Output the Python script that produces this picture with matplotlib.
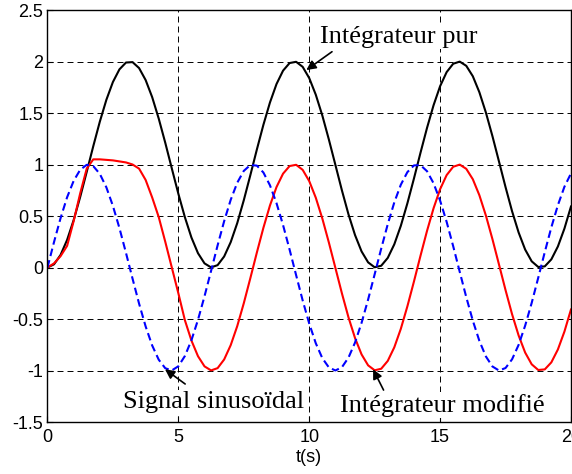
#
#  Signal sinusoidal, integrateur pur et integrateur modifie
#
################################################################

import numpy as np
import matplotlib
matplotlib.use("Agg")
import matplotlib.pylab as plt

plt.rcParams['axes.unicode_minus'] = False
plt.rcParams['lines.scale_dashes'] = False

#  Sample times (s), one value every 0.25 s
t = np.linspace(0, 20, 81)

#  Values
sig = [0.000, 0.247, 0.479, 0.682, 0.841, 0.949, 0.997, 0.984, 0.909, 0.778,
       0.598, 0.382, 0.141, -0.108, -0.351, -0.572, -0.757, -0.895, -0.978, -0.999,
       -0.959, -0.859, -0.706, -0.508, -0.279, -0.033,
       0.215, 0.450, 0.657, 0.823, 0.938, 0.995, 0.989, 0.922, 0.798, 0.625,
       0.412, 0.174, -0.075, -0.320,
       -0.544, -0.735, -0.880, -0.970, -1.000, -0.968, -0.875, -0.729, -0.537, -0.311,
       -0.066,
       0.183, 0.420, 0.632, 0.804, 0.926, 0.991, 0.994, 0.935, 0.818, 0.650,
       0.443, 0.207, -0.042, -0.288, -0.516, -0.712, -0.864, -0.961, -1.000, -0.976,
       -0.891, -0.751, -0.564, -0.343, -0.099, 0.150, 0.390, 0.605, 0.784, 0.913]

pur = [0.000, 0.031, 0.122, 0.268, 0.460, 0.685, 0.929, 1.178, 1.416, 1.628,
       1.801, 1.924, 1.990, 1.994, 1.936, 1.820, 1.654, 1.446, 1.211, 0.962,
       0.716, 0.488, 0.291, 0.139, 0.040, 0.001,
       0.023, 0.107, 0.246, 0.431, 0.653, 0.896, 1.146, 1.386, 1.602, 1.781,
       1.911, 1.985, 1.997, 1.948,
       1.839, 1.678, 1.476, 1.243, 0.996, 0.748, 0.516, 0.315, 0.156, 0.050,
       0.002,
       0.017, 0.093, 0.225, 0.405, 0.623, 0.863, 1.113, 1.355, 1.575, 1.760,
       1.897, 1.978, 1.999, 1.958, 1.857, 1.702, 1.504, 1.275, 1.029, 0.781,
       0.546, 0.340, 0.174, 0.060, 0.005, 0.011, 0.079, 0.204, 0.378, 0.592]

modif = [0.000, 0.040, 0.110, 0.210, 0.450, 0.720, 0.960, 1.050, 1.050, 1.045,
         1.040, 1.030, 1.020, 1.000, 0.960, 0.850, 0.680, 0.490, 0.250, 0.000,
         -0.250, -0.512, -0.709, -0.861, -0.960, -0.999,
         -0.977, -0.893, -0.754, -0.569, -0.347, -0.104, 0.146, 0.386, 0.602, 0.781,
         0.911, 0.985, 0.997, 0.948,
         0.839, 0.678, 0.476, 0.243, -0.004, -0.252, -0.484, -0.685, -0.844, -0.950,
         -0.998,
         -0.983, -0.907, -0.775, -0.595, -0.377, -0.137, 0.113, 0.355, 0.575, 0.760,
         0.897, 0.978, 0.999, 0.958, 0.857, 0.702, 0.504, 0.275, 0.029, -0.219,
         -0.454, -0.660, -0.826, -0.940, -0.995, -0.989, -0.921, -0.796, -0.622, -0.408]

xticks = [0, 5, 10, 15, 20]
yticks = [-1.5, -1, -0.5, 0, 0.5, 1, 1.5, 2, 2.5]

fig = plt.figure(figsize=(5.72, 4.74), dpi=100)
ax = fig.add_axes([0.083, 0.1097, 0.9152, 0.8692])

ax.plot(t, pur, color='k', linewidth=1.5)
ax.plot(t, modif, color='r', linewidth=1.5)
ax.plot(t, sig, color='b', linewidth=1.5, linestyle='--', dashes=(5.5, 3))

ax.set_xlim(0, 20)
ax.set_ylim(-1.5, 2.5)
ax.set_xticks(xticks)
ax.set_yticks(yticks)
ax.set_xticklabels([str(v) for v in xticks])
ax.set_yticklabels(["%g" % v for v in yticks])
ax.set_axisbelow(True)
ax.grid(True, color='k', linewidth=0.7, linestyle=(0, (4.3, 2.9)))

for lab in ax.get_xticklabels() + ax.get_yticklabels():
    lab.set_family("Liberation Sans")
ax.tick_params(direction='in', length=4, width=0.8, labelsize=13)
ax.tick_params(axis='x', pad=5)
ax.tick_params(axis='y', pad=3)
for s in ax.spines.values():
    s.set_linewidth(1.0)

ax.set_xlabel("t(s)", family="Liberation Sans", fontsize=13, labelpad=2)

#  Labels, and arrows pointing at the curves
arr = dict(arrowstyle='-|>', color='k', lw=1.2, mutation_scale=14,
           shrinkA=0, shrinkB=0)
box = dict(facecolor='white', edgecolor='none', pad=1)

ax.text(10.42, 2.24, "Intégrateur pur", family="Liberation Serif",
        fontsize=19, va='center', ha='left', bbox=box)
ax.annotate("", xy=(9.89, 1.917), xytext=(10.87, 2.095), arrowprops=arr)

ax.text(2.90, -1.364, "Signal sinusoïdal", family="Liberation Serif",
        fontsize=19, va='baseline', ha='left', bbox=box)
ax.annotate("", xy=(4.49, -0.988), xytext=(5.26, -1.131), arrowprops=arr)

ax.text(11.16, -1.40, "Intégrateur modifié", family="Liberation Serif",
        fontsize=19, va='baseline', ha='left', bbox=box)
ax.annotate("", xy=(12.44, -0.988), xytext=(12.84, -1.19), arrowprops=arr)

plt.savefig("out.png", dpi=100)
plt.close()
